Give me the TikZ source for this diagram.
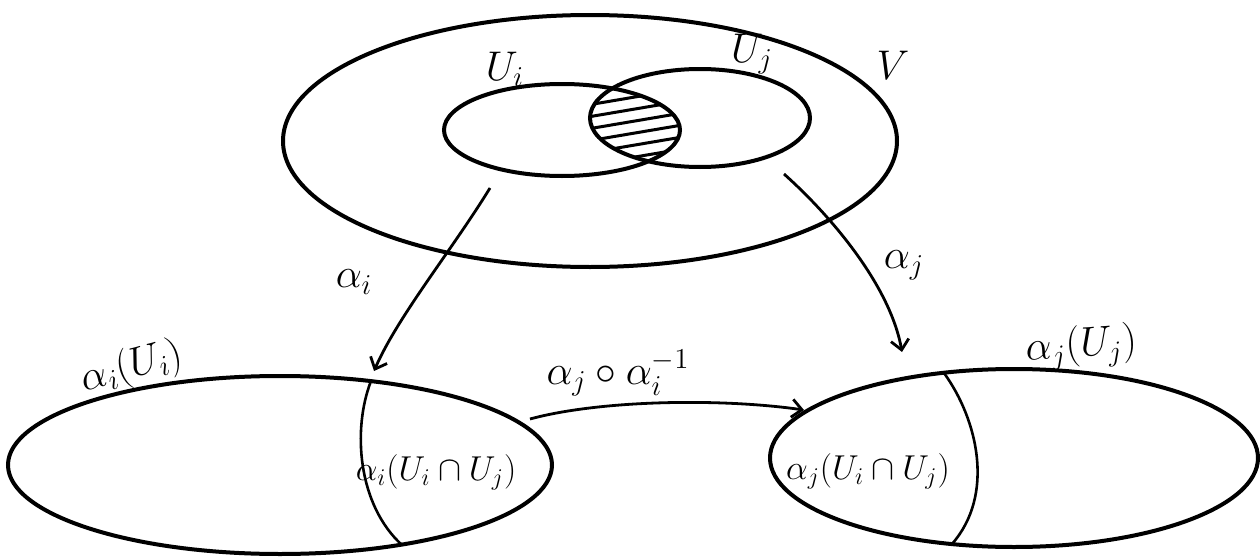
\documentclass[tikz,border=0pt]{standalone}
\usepackage{amsmath,amssymb}
\usepackage{tikz}
\usetikzlibrary{arrows.meta,calc}
\definecolor{ink}{RGB}{0,0,0}
\tikzset{
  setline/.style={draw=ink,line width=2pt},
  mapline/.style={draw=ink,line width=1.4pt,
    -{Straight Barb[length=5pt,width=9pt]}},
  cutline/.style={draw=ink,line width=1.3pt},
  hatchline/.style={draw=ink,line width=1.5pt},
  lbl/.style={inner sep=1pt,font=\fontsize{20}{24}\selectfont,text=ink},
  lblbig/.style={inner sep=1pt,font=\fontsize{22}{26}\selectfont,text=ink},
  lblsm/.style={inner sep=1pt,font=\fontsize{17}{20}\selectfont,text=ink}
}

\begin{document}
\begin{tikzpicture}[x=0.5pt,y=-0.5pt]
  \useasboundingbox (0,0) rectangle (1260,557);
  % the space V with the two open sets
  \coordinate (Vc) at (590,141);
  \coordinate (Uic) at (562,130);
  \coordinate (Ujc) at (700,118);
  \draw[setline] (Vc) ellipse [x radius=307,y radius=126];
  \draw[setline] (Uic) ellipse [x radius=118,y radius=46];
  \draw[setline] (Ujc) ellipse [x radius=110,y radius=49];
  % hatched overlap
  \begin{scope}
    \clip (Uic) ellipse [x radius=118,y radius=46];
    \clip (Ujc) ellipse [x radius=110,y radius=49];
    \foreach \yy in {96,108,...,180}
      \draw[hatchline] (570,\yy) -- (700,\yy-22);
  \end{scope}
  \node[lbl] (Vlbl) at (893,65) {$V$};
  \node[lbl,anchor=base] (Uilbl) at (505,80) {$U_i$};
  \node[lbl,anchor=base] (Ujlbl) at (752,62) {$U_j$};

  % the two chart images
  \coordinate (Lc) at (280,465);
  \coordinate (Rc) at (1014,458);
  \draw[setline] (Lc) ellipse [x radius=272,y radius=89];
  \draw[setline] (Rc) ellipse [x radius=244,y radius=89];
  \coordinate (Ltop) at (371,381);
  \coordinate (Lbot) at (402,545);
  \draw[cutline] (Ltop) .. controls (352,430) and (358,505) .. (Lbot);
  \coordinate (Rtop) at (944,373);
  \coordinate (Rbot) at (952,544);
  \draw[cutline] (Rtop) .. controls (978,420) and (995,495) .. (Rbot);
  \node[lblbig,rotate=15,anchor=south] (aiUi) at (138,390) {$\alpha_i(U_i)$};
  \node[lblbig,rotate=4,anchor=south] (ajUj) at (1083,371) {$\alpha_j(U_j)$};
  \node[lblsm] (aiUij) at (436,472) {$\alpha_i(U_i\cap U_j)$};
  \node[lblsm] (ajUij) at (868,471) {$\alpha_j(U_i\cap U_j)$};

  % charts and transition map
  \coordinate (aiS) at (490,188);
  \coordinate (aiE) at (374,371);
  \draw[mapline] (aiS) .. controls (452,250) and (398,316) .. (aiE);
  \coordinate (ajS) at (784,174);
  \coordinate (ajE) at (902,352);
  \draw[mapline] (ajS) .. controls (830,215) and (890,285) .. (ajE);
  \coordinate (trS) at (530,419);
  \coordinate (trE) at (804,410);
  \draw[mapline] (trS) .. controls (600,400) and (720,398) .. (trE);
  \node[lbl] (ailbl) at (354,282) {$\alpha_i$};
  \node[lbl] (ajlbl) at (904,265) {$\alpha_j$};
  \node[lbl] (trlbl) at (618,373) {$\alpha_j\circ\alpha_i^{-1}$};
\end{tikzpicture}
\end{document}
